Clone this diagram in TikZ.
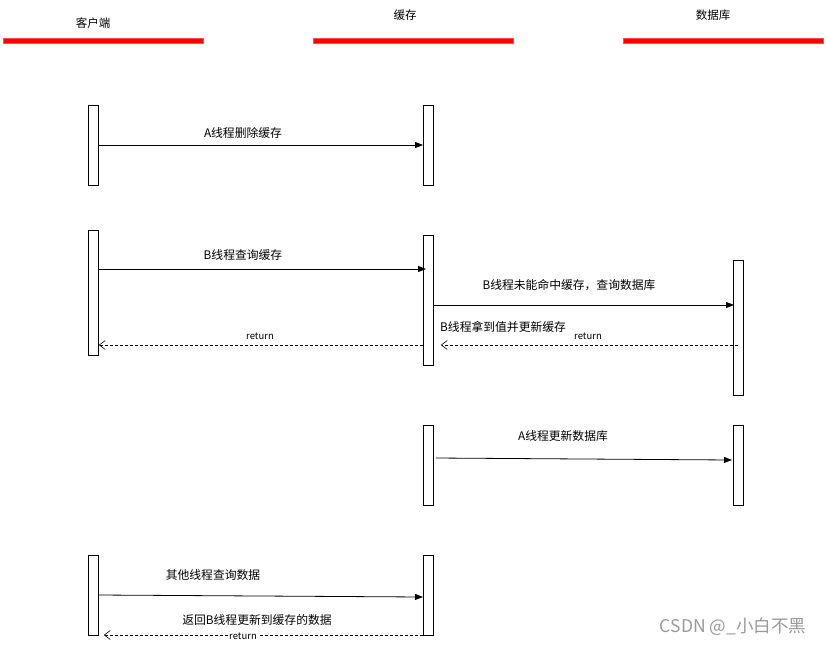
\documentclass[tikz,border=0pt]{standalone}
\usepackage{fontspec}
\setmainfont{Noto Sans CJK SC}
\usetikzlibrary{arrows.meta}
\begin{document}
\begin{tikzpicture}[x=1pt,y=-1pt,
  bar/.style={fill=red,draw=red!70,line width=0.4pt,minimum width=200pt,minimum height=5pt,inner sep=0pt,anchor=north west},
  act/.style={draw=black,fill=white,line width=0.8pt,minimum width=10pt,inner sep=0pt,anchor=north west},
  hdr/.style={font=\fontsize{11.5}{13}\selectfont,inner sep=0pt},
  lbl/.style={font=\fontsize{11.8}{13}\selectfont,inner sep=0pt},
  ret/.style={font=\fontsize{9.5}{10}\selectfont,inner sep=0pt},
  msg/.style={line width=0.8pt,-{Triangle[length=8pt,width=6pt]}},
  rmsg/.style={line width=0.6pt,dashed,dash pattern=on 3pt off 2pt,-{Straight Barb[length=6pt,width=9pt]}}
]
\useasboundingbox (0,0) rectangle (826,646);
% headers
\node[bar] (bar1) at (3,38) {};
\node[bar] (bar2) at (313,38) {};
\node[bar] (bar3) at (623,38) {};
\node[hdr] (h1) at (93,23) {客户端};
\node[hdr] (h2) at (405,15) {缓存};
\node[hdr] (h3) at (713,15) {数据库};
% activation boxes
\node[act,minimum height=80pt] (c1) at (88,105) {};
\node[act,minimum height=80pt] (k1) at (423,105) {};
\node[act,minimum height=125pt] (c2) at (88,230) {};
\node[act,minimum height=130pt] (k2) at (423,235) {};
\node[act,minimum height=135pt] (d1) at (733,260) {};
\node[act,minimum height=80pt] (k3) at (423,425) {};
\node[act,minimum height=80pt] (d2) at (733,425) {};
\node[act,minimum height=80pt] (c3) at (88,555) {};
\node[act,minimum height=80pt] (k4) at (423,555) {};
% messages
\draw[msg] (c1.east |- 0,145) -- (k1.west |- 0,145);
\node[lbl] (l1) at (243,133) {A线程删除缓存};
\draw[msg] (c2.east |- 0,269) -- ([xshift=3pt]k2.west |- 0,269);
\node[lbl] (l2) at (243,255) {B线程查询缓存};
\draw[msg] (k2.east |- 0,305) -- ([xshift=1pt]d1.west |- 0,305);
\node[lbl] (l3) at (569,285) {B线程未能命中缓存，查询数据库};
\draw[rmsg] ([xshift=5pt]d1.west |- 0,345) -- ([xshift=7pt]k2.east |- 0,345);
\node[ret] (r1) at (588,336) {return};
\node[lbl,anchor=west] (l4) at (440,327) {B线程拿到值并更新缓存};
\draw[rmsg] (k2.west |- 0,345) -- (c2.east |- 0,345);
\node[ret] (r2) at (260,336) {return};
\draw[msg] ([xshift=2pt]k3.east |- 0,458) -- ([xshift=-1pt]d2.west |- 0,460);
\node[lbl] (l5) at (563,436) {A线程更新数据库};
\draw[msg] (c3.east |- 0,595) -- (k4.west |- 0,597);
\node[lbl] (l6) at (213,575) {其他线程查询数据};
\draw[rmsg] (k4.west |- 0,635) -- ([xshift=5pt]c3.east |- 0,635);
\node[ret,fill=white,inner sep=1pt] (r3) at (243,636) {return};
\node[lbl] (l7) at (257,620) {返回B线程更新到缓存的数据};
% watermark
\node[font=\fontsize{17.5}{20}\selectfont,text=black!40,inner sep=0pt] (wm) at (733,627) {CSDN @\_小白不黑};
\end{tikzpicture}
\end{document}
